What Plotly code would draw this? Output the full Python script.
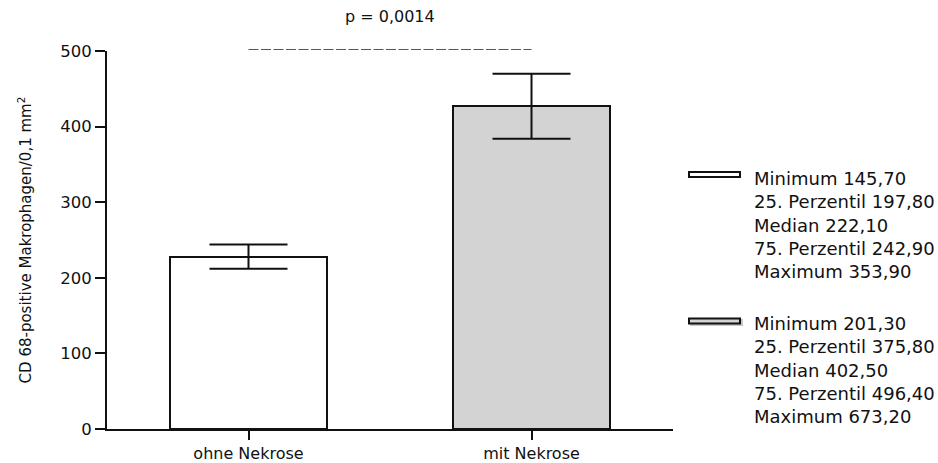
import plotly.graph_objects as go

# Gruppen und Mittelwerte mit Standardfehler
categories = ["ohne Nekrose", "mit Nekrose"]
means = [228, 427]
sem = [16, 43]
bar_colors = ["#ffffff", "#d3d3d3"]

# Deskriptive Statistik je Gruppe (Legende rechts)
stat_labels = ["Minimum", "25. Perzentil", "Median", "75. Perzentil", "Maximum"]
stats_ohne = ["145,70", "197,80", "222,10", "242,90", "353,90"]
stats_mit = ["201,30", "375,80", "402,50", "496,40", "673,20"]

p_text = "p = 0,0014"
p_level = 502

y_ticks = [0, 100, 200, 300, 400, 500]
y_max = 500
y_title = "CD 68-positive Makrophagen/0,1 mm<sup>2</sup>"

W, H = 938, 463
ML, MR, MT, MB = 107, 265, 51, 34
PW, PH = W - ML - MR, H - MT - MB
FONT = "DejaVu Sans"
INK = "#111111"


def px_x(x):
    return (x - ML) / PW


def px_y(y):
    return (H - MB - y) / PH


fig = go.Figure()
fig.add_trace(go.Bar(
    x=categories,
    y=means,
    width=0.552,
    marker=dict(color=bar_colors, line=dict(color=INK, width=2)),
    error_y=dict(type="data", array=sem, visible=True, color=INK,
                 thickness=2, width=39),
    showlegend=False,
))

# Signifikanzlinie zwischen den beiden Gruppenmitten
n_cat = len(categories)
x_first = 0.5 / n_cat
x_last = (n_cat - 0.5) / n_cat
fig.add_shape(type="line", xref="paper", yref="paper",
              x0=x_first, x1=x_last, y0=p_level / y_max, y1=p_level / y_max,
              line=dict(color="#555555", width=1, dash="10px,2.5px"))

fig.add_annotation(
    x=0.5, y=px_y(17), xref="paper", yref="paper", text=p_text,
    showarrow=False, font=dict(family=FONT, size=16, color=INK),
    xanchor="center", yanchor="middle",
)

# Legende mit Kennwerten
groups = [
    (stats_ohne, "#ffffff", 174.5, 178.3, False),
    (stats_mit, "#d3d3d3", 321, 323.3, True),
]
line_gap = 23.35
for stats, fill, sw_y, text_y, shadow in groups:
    if shadow:
        fig.add_shape(type="rect", xref="paper", yref="paper",
                      x0=px_x(690), x1=px_x(743), y0=px_y(319), y1=px_y(326),
                      fillcolor="#c8c8c8", line=dict(width=0), layer="above")
    fig.add_shape(type="rect", xref="paper", yref="paper",
                  x0=px_x(689), x1=px_x(740), y0=px_y(sw_y - 2.5), y1=px_y(sw_y + 2.5),
                  fillcolor=fill, line=dict(color=INK, width=2), layer="above")
    for i, (lab, val) in enumerate(zip(stat_labels, stats)):
        fig.add_annotation(
            x=px_x(752), y=px_y(text_y + i * line_gap), xref="paper", yref="paper",
            text=f"{lab} {val}", showarrow=False, xanchor="left", yanchor="middle",
            font=dict(family=FONT, size=18, color=INK),
        )

fig.update_layout(
    width=W, height=H,
    margin=dict(l=ML, r=MR, t=MT, b=MB, pad=0, autoexpand=False),
    paper_bgcolor="white", plot_bgcolor="white",
    font=dict(family=FONT, size=16, color=INK),
    bargap=0,
    xaxis=dict(
        range=[-0.5, n_cat - 0.5], showgrid=False, zeroline=False, automargin=False,
        showline=True, linecolor=INK, linewidth=2,
        ticks="outside", ticklen=9, tickwidth=2, tickcolor=INK,
        tickfont=dict(family=FONT, size=16, color=INK),
    ),
    yaxis=dict(
        range=[0, y_max], tickvals=y_ticks, showgrid=False, zeroline=False,
        automargin=False,
        showline=True, linecolor=INK, linewidth=2,
        ticks="outside", ticklen=10, tickwidth=2, tickcolor=INK,
        tickfont=dict(family=FONT, size=16.5, color=INK),
        title=dict(text=y_title, font=dict(family=FONT, size=15, color=INK),
                   standoff=25),
    ),
)

fig.write_html("out.html")
